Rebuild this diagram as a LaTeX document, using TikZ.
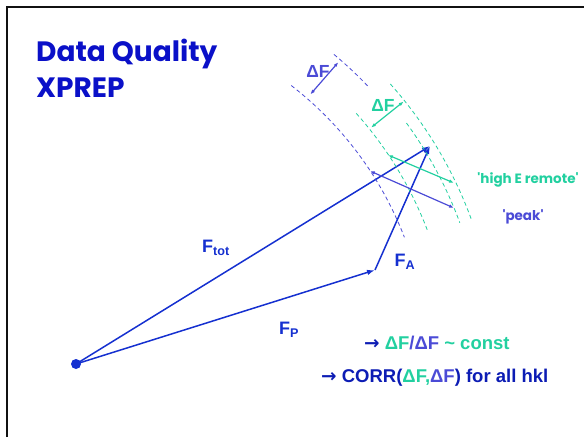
\documentclass[tikz,border=0pt]{standalone}
\usepackage{fontspec}
\setmainfont{Liberation Sans}
\newfontfamily\comicfont{Poppins}
\newfontfamily\arrowfont{DejaVu Sans}
\usetikzlibrary{arrows.meta,calc}
\definecolor{titleblue}{HTML}{0A10C8}
\definecolor{vecblue}{HTML}{1530D0}
\definecolor{peakblue}{HTML}{4B4BD6}
\definecolor{remote}{HTML}{22D0A0}
\definecolor{textblue}{HTML}{0C1CB4}
\definecolor{frameink}{HTML}{111111}

\begin{document}
\begin{tikzpicture}[x=1pt,y=-1pt,>=Latex,
  vector/.style={vecblue,line width=1.5pt,-{Latex[length=8pt,width=5.5pt]}},
  spread/.style={line width=1.2pt,{Latex[length=5pt,width=3.5pt]}-{Latex[length=5pt,width=3.5pt]}},
  shell/.style={dash pattern=on 4pt off 3pt,line width=0.8pt},
  lbl/.style={font=\bfseries\fontsize{18}{20}\selectfont,vecblue,inner sep=0pt},
  dflbl/.style={font=\bfseries\fontsize{17.5}{20}\selectfont,inner sep=0pt},
  quote/.style={font=\comicfont\bfseries\fontsize{13.5}{15}\selectfont,inner sep=0pt},
  titletext/.style={font=\comicfont\bfseries\fontsize{28}{32}\selectfont,titleblue,inner sep=0pt,anchor=base west},
  result/.style={font=\bfseries\fontsize{18.5}{21}\selectfont,textblue,inner sep=0pt,anchor=west}]
  \useasboundingbox (0,0) rectangle (584,437);
  \draw[frameink,line width=2.5pt] (7,437) -- (7,7) -- (584,7);

  % title
  \node[titletext] (title1) at (36,61) {Data Quality};
  \node[titletext] (title2) at (36,97) {XPREP};

  % structure factor vectors
  \coordinate (o) at (76,364);
  \coordinate (p) at (375,270);
  \coordinate (t) at (430,146);
  \fill[vecblue] (o) circle (5);
  \draw[vector] (o) -- (t);
  \draw[vector] (o) -- (p);
  \draw[vector] (p) -- (t);
  \node[lbl] (ftot) at (216,248) {F\textsubscript{tot}};
  \node[lbl] (fp) at (289,330) {F\textsubscript{P}};
  \node[lbl] (fa) at (405,262) {F\textsubscript{A}};

  % dashed shells round the origin
  \foreach \r/\a/\b/\col in {352/52.3/21.1/peakblue, 403/50.2/43.6/peakblue,
    376/41.8/20.9/remote, 409/36.1/20.2/remote, 421/41.7/20.1/remote}{
    \draw[shell,\col] ($(o)+(-\a:\r)$) arc[start angle=-\a, end angle=-\b, radius=\r];
  }

  % widths of the shells
  \coordinate (dfb1) at ($(o)+(-49:357)$);
  \coordinate (dfb2) at ($(o)+(-49:400)$);
  \coordinate (dfg1) at ($(o)+(-38.7:378)$);
  \coordinate (dfg2) at ($(o)+(-38.7:420)$);
  \coordinate (rem1) at (388,155);
  \coordinate (rem2) at (454,183);
  \coordinate (pk1) at (370,171);
  \coordinate (pk2) at (454,208);
  \draw[spread,peakblue] (dfb1) -- (dfb2);
  \draw[spread,remote] (dfg1) -- (dfg2);
  \draw[spread,remote] (rem1) -- (rem2);
  \draw[spread,peakblue] (pk1) -- (pk2);
  \node[dflbl,peakblue] (dfbl) at (318,71) {ΔF};
  \node[dflbl,remote] (dfgl) at (383,105) {ΔF};
  \node[quote,remote] (reml) at (528,180) {\textquotesingle high E remote\textquotesingle};
  \node[quote,peakblue] (pkl) at (523,217) {\textquotesingle peak\textquotesingle};

  % conclusions
  \node[result] (res1) at (364,343) {{\arrowfont →} \textcolor{remote}{ΔF}\textcolor{peakblue}{/ΔF} \textcolor{remote}{\textasciitilde{} const}};
  \node[result] (res2) at (321,378) {{\arrowfont →} CORR(\textcolor{remote}{ΔF,}\textcolor{peakblue}{ΔF}) for all hkl};
\end{tikzpicture}
\end{document}
